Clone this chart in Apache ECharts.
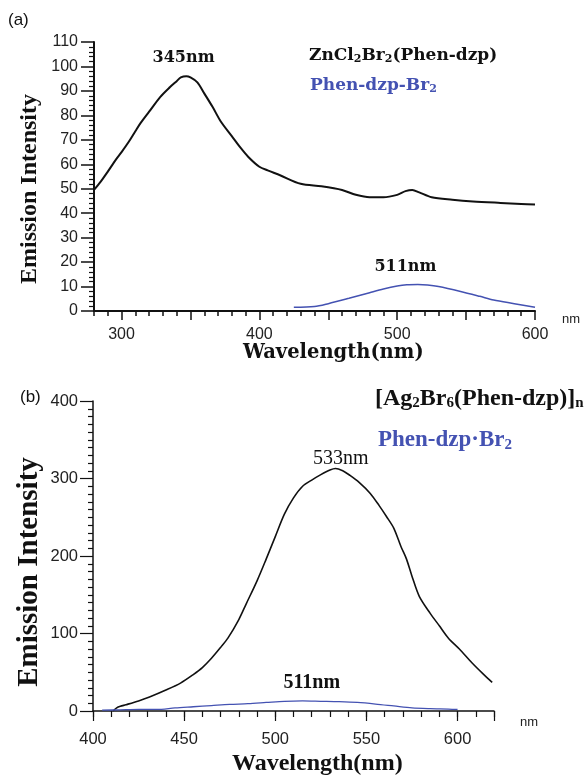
<!DOCTYPE html>
<html lang="en">
<head>
    <meta charset="UTF-8">
    <title>Emission spectra</title>
    <script src="https://cdn.jsdelivr.net/npm/echarts@6/dist/echarts.min.js"></script>
</head>
<body style="margin:0;background:#fff">
<div id="my" style="width:588px;height:782px"></div>
<script>
    // (a) ZnCl2Br2(Phen-dzp) and Phen-dzp-Br2
    var aZnWl = [280, 285, 290, 296, 300, 305, 310, 314, 320, 328, 335, 340, 343, 347, 350, 355, 360, 366, 372, 380, 386, 392, 400, 406, 415, 430, 445, 460, 470, 480, 490, 500, 506, 511, 516, 525, 540, 555, 575, 590, 600]
    var aZn = [49.5, 53, 57, 62, 65, 69, 73.5, 77, 81.5, 87.5, 91.5, 94, 95.5, 96, 95.5, 93.5, 89, 83.5, 77.5, 71.5, 67, 63, 59, 57.5, 55.5, 52, 51, 49.5, 47.5, 46.5, 46.5, 47.5, 49, 49.5, 48.5, 46.5, 45.5, 44.8, 44.2, 43.8, 43.5]
    var aBrWl = [425, 440, 450, 465, 480, 490, 500, 507, 515, 522, 530, 546, 560, 570, 585, 600]
    var aBr = [1.5, 1.8, 3, 5.2, 7.5, 9, 10.2, 10.7, 10.8, 10.6, 10, 8, 6, 4.5, 3, 1.5]

    // (b) [Ag2Br6(Phen-dzp)]n and Phen-dzp·Br2
    var bAgWl = [411, 413, 415, 418, 425, 431, 440, 448, 455, 460, 465, 470, 474, 480, 484, 490, 495, 500, 505, 510, 515, 520, 525, 530, 533, 537, 541, 546, 552, 557, 561, 565, 569, 572, 575, 579, 585, 590, 595, 601, 608, 614, 619]
    var bAg = [0, 4, 6, 8, 13, 18, 27, 36, 47, 56, 68, 82, 94, 118, 138, 168, 196, 225, 254, 275, 290, 298, 305, 311, 313, 310, 304, 295, 281, 265, 251, 236, 212, 196, 174, 148, 126, 110, 94, 80, 62, 48, 37]
    var bBrWl = [405, 415, 425, 435, 445, 455, 465, 475, 485, 495, 505, 515, 525, 535, 545, 555, 565, 575, 585, 595, 600]
    var bBr = [1, 1.5, 2, 2, 4, 5.5, 7, 8.5, 9.5, 11, 12.5, 13, 12.5, 12, 11, 9, 6.5, 4, 3, 2.5, 2]

    // tick labels
    var aXLabels = [300, 400, 500, 600]
    var aXMajor = [300, 350, 400, 450, 500, 550, 600]
    var bXLabels = [400, 450, 500, 550, 600]

    function pairs(xs, ys) {
        return xs.map(function (x, i) { return [x, ys[i]] })
    }
    function every(from, to, step) {
        var r = []
        for (var v = from; v <= to; v += step) r.push(v)
        return r
    }

    var serif = 'Liberation Serif'
    var wide = 'DejaVu Serif'
    var sans = 'Liberation Sans'
    var blue = '#4452b2'

    var mCharts = echarts.init(document.getElementById('my'))

    var sub = {
        t: {fontFamily: wide, fontWeight: 'bold', fontSize: 17, fill: '#111'},
        s: {fontFamily: wide, fontWeight: 'bold', fontSize: 11, fill: '#111', verticalAlign: 'bottom', padding: [7, 0, 0, 0]},
        bt: {fontFamily: wide, fontWeight: 'bold', fontSize: 17, fill: blue},
        bs: {fontFamily: wide, fontWeight: 'bold', fontSize: 11, fill: blue, verticalAlign: 'bottom', padding: [7, 0, 0, 0]},
        T: {fontFamily: serif, fontWeight: 'bold', fontSize: 24, fill: '#111'},
        S: {fontFamily: serif, fontWeight: 'bold', fontSize: 15, fill: '#111', verticalAlign: 'bottom', padding: [9, 0, 0, 0]},
        BT: {fontFamily: serif, fontWeight: 'bold', fontSize: 23, fill: blue},
        BS: {fontFamily: serif, fontWeight: 'bold', fontSize: 15, fill: blue, verticalAlign: 'bottom', padding: [9, 0, 0, 0]}
    }

    function peakLabel(name, x, y, dist, font, weight, size) {
        return {
            symbol: 'circle', symbolSize: 1, silent: true,
            itemStyle: {color: 'rgba(0,0,0,0)'},
            label: {show: true, position: 'top', distance: dist, formatter: '{b}', color: '#111',
                fontFamily: font, fontWeight: weight, fontSize: size},
            data: [{name: name, coord: [x, y]}]
        }
    }

    var option = {
        animation: false,
        grid: [
            {left: 94, right: 53, top: 42, height: 269},
            {left: 93, right: 94, top: 401, height: 310}
        ],
        xAxis: [
            {
                gridIndex: 0, type: 'value', min: 280, max: 600, position: 'bottom',
                axisLine: {lineStyle: {color: '#111', width: 2}},
                axisTick: {customValues: aXMajor, length: 9, lineStyle: {color: '#111', width: 1.5}},
                axisLabel: {customValues: aXLabels, color: '#222', fontFamily: sans, fontSize: 16, margin: 16},
                splitLine: {show: false}
            },
            {
                gridIndex: 0, type: 'value', min: 280, max: 600, position: 'bottom',
                axisLine: {show: false},
                axisTick: {customValues: every(280, 600, 10), length: 5, lineStyle: {color: '#111', width: 1.5}},
                axisLabel: {show: false},
                splitLine: {show: false}
            },
            {
                gridIndex: 1, type: 'value', min: 400, max: 620, position: 'bottom',
                axisLine: {lineStyle: {color: '#111', width: 1.5}},
                axisTick: {customValues: bXLabels.concat([620]), length: 10, lineStyle: {color: '#111', width: 1.2}},
                axisLabel: {customValues: bXLabels, color: '#222', fontFamily: sans, fontSize: 16.5, margin: 20},
                splitLine: {show: false}
            },
            {
                gridIndex: 1, type: 'value', min: 400, max: 620, position: 'bottom',
                axisLine: {show: false},
                axisTick: {customValues: every(400, 620, 10), length: 6, lineStyle: {color: '#111', width: 1.2}},
                axisLabel: {show: false},
                splitLine: {show: false}
            }
        ],
        yAxis: [
            {
                gridIndex: 0, type: 'value', min: 0, max: 110, interval: 10,
                axisLine: {show: true, lineStyle: {color: '#111', width: 2}},
                axisTick: {show: true, length: 13, lineStyle: {color: '#111', width: 1.5}},
                minorTick: {show: true, splitNumber: 5, length: 5, lineStyle: {color: '#111', width: 1.2}},
                axisLabel: {color: '#222', fontFamily: sans, fontSize: 16, margin: 16},
                splitLine: {show: false}
            },
            {
                gridIndex: 1, type: 'value', min: 0, max: 400, interval: 100,
                axisLine: {show: true, lineStyle: {color: '#111', width: 1.5}},
                axisTick: {show: true, length: 13, lineStyle: {color: '#111', width: 1.2}},
                minorTick: {show: true, splitNumber: 10, length: 5, lineStyle: {color: '#111', width: 1.2}},
                axisLabel: {color: '#222', fontFamily: sans, fontSize: 16.5, margin: 15},
                splitLine: {show: false}
            }
        ],
        series: [
            {
                type: 'line', xAxisIndex: 0, yAxisIndex: 0, data: pairs(aZnWl, aZn),
                smooth: 0.3, showSymbol: false, lineStyle: {color: '#111', width: 2},
                markPoint: peakLabel('345nm', 345, 96, 10, wide, 'bold', 16)
            },
            {
                type: 'line', xAxisIndex: 0, yAxisIndex: 0, data: pairs(aBrWl, aBr),
                smooth: 0.3, showSymbol: false, lineStyle: {color: blue, width: 1.5},
                markPoint: peakLabel('511nm', 506, 10.8, 9, wide, 'bold', 16)
            },
            {
                type: 'line', xAxisIndex: 2, yAxisIndex: 1, data: pairs(bAgWl, bAg),
                smooth: 0.3, showSymbol: false, lineStyle: {color: '#111', width: 1.6},
                markPoint: peakLabel('533nm', 536, 313, -1, serif, 'normal', 20)
            },
            {
                type: 'line', xAxisIndex: 2, yAxisIndex: 1, data: pairs(bBrWl, bBr),
                smooth: 0.3, showSymbol: false, lineStyle: {color: blue, width: 1.3},
                markPoint: peakLabel('511nm', 520, 13, 8, serif, 'bold', 20)
            }
        ],
        graphic: [
            {type: 'text', left: 8, top: 12, style: {text: '(a)', font: '17px Liberation Sans', fill: '#111'}},
            {type: 'text', left: 20, top: 389, style: {text: '(b)', font: '17px Liberation Sans', fill: '#111'}},
            {type: 'text', x: 30, y: 189, rotation: Math.PI / 2,
                style: {text: 'Emission Intensity', font: 'bold 24px Liberation Serif', fill: '#111', align: 'center', verticalAlign: 'middle'}},
            {type: 'text', x: 30, y: 572, rotation: Math.PI / 2,
                style: {text: 'Emission Intensity', font: 'bold 29px Liberation Serif', fill: '#111', align: 'center', verticalAlign: 'middle'}},
            {type: 'text', left: 309, top: 47, style: {text: '{t|ZnCl}{s|2}{t|Br}{s|2}{t|(Phen-dzp)}', rich: sub}},
            {type: 'text', left: 310, top: 77, style: {text: '{bt|Phen-dzp-Br}{bs|2}', rich: sub}},
            {type: 'text', left: 375, top: 387, style: {text: '{T|[Ag}{S|2}{T|Br}{S|6}{T|(Phen-dzp)]}{S|n}', rich: sub}},
            {type: 'text', left: 378, top: 429, style: {text: '{BT|Phen-dzp\u00b7Br}{BS|2}', rich: sub}},
            {type: 'text', left: 562, top: 313, style: {text: 'nm', font: '13px Liberation Sans', fill: '#222'}},
            {type: 'text', left: 520, top: 716, style: {text: 'nm', font: '13px Liberation Sans', fill: '#222'}},
            {type: 'text', left: 243, top: 343, style: {text: 'Wavelength(nm)', font: 'bold 19.5px DejaVu Serif', fill: '#111'}},
            {type: 'text', left: 232, top: 752, style: {text: 'Wavelength(nm)', font: 'bold 24px Liberation Serif', fill: '#111'}}
        ]
    }
    mCharts.setOption(option)
</script>
</body>
</html>
